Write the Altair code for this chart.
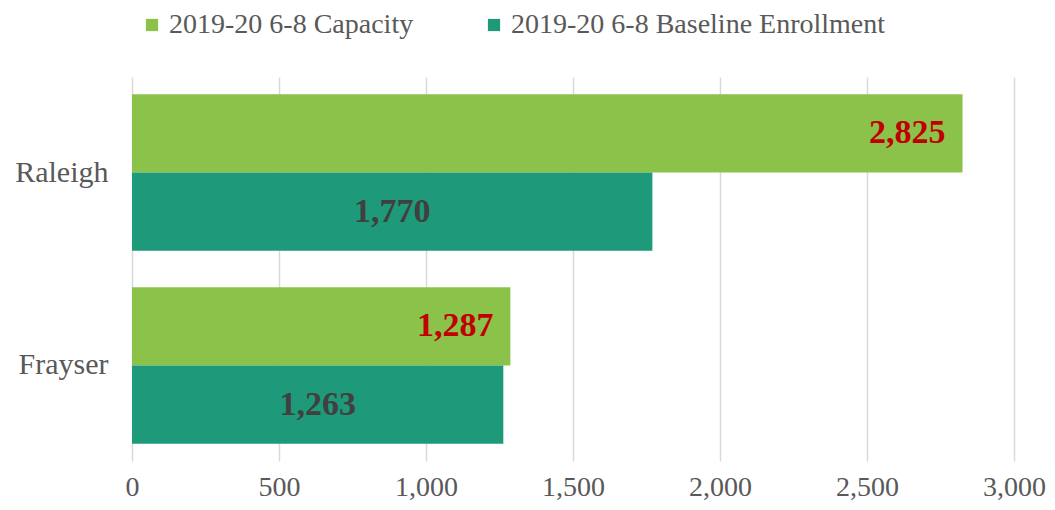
import altair as alt
import pandas as pd

schools = ["Raleigh", "Frayser"]
series_names = ["2019-20 6-8 Capacity", "2019-20 6-8 Baseline Enrollment"]
capacity = [2825, 1287]
enrollment = [1770, 1263]
x_ticks = [0, 500, 1000, 1500, 2000, 2500, 3000]

rows = []
for i, s in enumerate(schools):
    rows.append({"school": s, "series": series_names[0], "value": capacity[i]})
    rows.append({"school": s, "series": series_names[1], "value": enrollment[i]})
df = pd.DataFrame(rows)

FONT = "Liberation Serif"
GRAY = "#595959"

y_enc = alt.Y("school:N", sort=schools, title=None,
              scale=alt.Scale(paddingInner=0.19, paddingOuter=0.09),
              axis=alt.Axis(labelFontSize=30, labelColor=GRAY, labelFont=FONT,
                            ticks=False, domain=False, labelPadding=24))
yoff = alt.YOffset("series:N", sort=series_names)
x_axis = alt.Axis(values=x_ticks, labelExpr="format(datum.value, ',')", labelFontSize=28,
                  labelColor=GRAY, labelFont=FONT, ticks=False, domain=False, grid=True,
                  gridColor="#d9d9d9", gridWidth=1.5, labelPadding=12, labelFlush=False)
x_scale = alt.Scale(domain=[0, 3000], nice=False)

bars = alt.Chart(df).mark_bar().encode(
    y=y_enc, yOffset=yoff,
    x=alt.X("value:Q", title=None, scale=x_scale, axis=x_axis),
    color=alt.Color("series:N", sort=series_names,
                    scale=alt.Scale(domain=series_names, range=["#8BC34A", "#1E9A7A"]),
                    legend=alt.Legend(title=None, orient="none", direction="horizontal",
                                      legendX=6, legendY=-66, symbolType="square",
                                      symbolSize=150, symbolStrokeWidth=0,
                                      labelFontSize=28, labelFont=FONT, labelColor=GRAY,
                                      labelOffset=3, columnPadding=66, labelLimit=600)),
)

cap_text = alt.Chart(df).transform_filter(
    alt.datum.series == series_names[0]
).mark_text(align="right", baseline="middle", dx=-17, fontSize=34, fontWeight="bold",
            font=FONT, color="#C00000").encode(
    y=alt.Y("school:N", sort=schools), yOffset=yoff,
    x=alt.X("value:Q", title=None, scale=x_scale, axis=x_axis),
    text=alt.Text("value:Q", format=","),
)

enr_text = alt.Chart(df).transform_filter(
    alt.datum.series == series_names[1]
).transform_calculate(mid="datum.value / 2").mark_text(
    align="center", baseline="middle", fontSize=34, fontWeight="bold",
    font=FONT, color="#404040").encode(
    y=alt.Y("school:N", sort=schools), yOffset=yoff,
    x=alt.X("mid:Q", title=None, scale=x_scale, axis=x_axis),
    text=alt.Text("value:Q", format=","),
)

chart = alt.layer(bars, cap_text, enr_text).properties(
    width=882, height=384,
    padding={"left": 124, "top": 69, "right": 33, "bottom": 41},
    autosize=alt.AutoSizeParams(type="none"),
).configure_view(stroke=None)

chart.save("out.html", embed_options={"renderer": "svg", "actions": False})
